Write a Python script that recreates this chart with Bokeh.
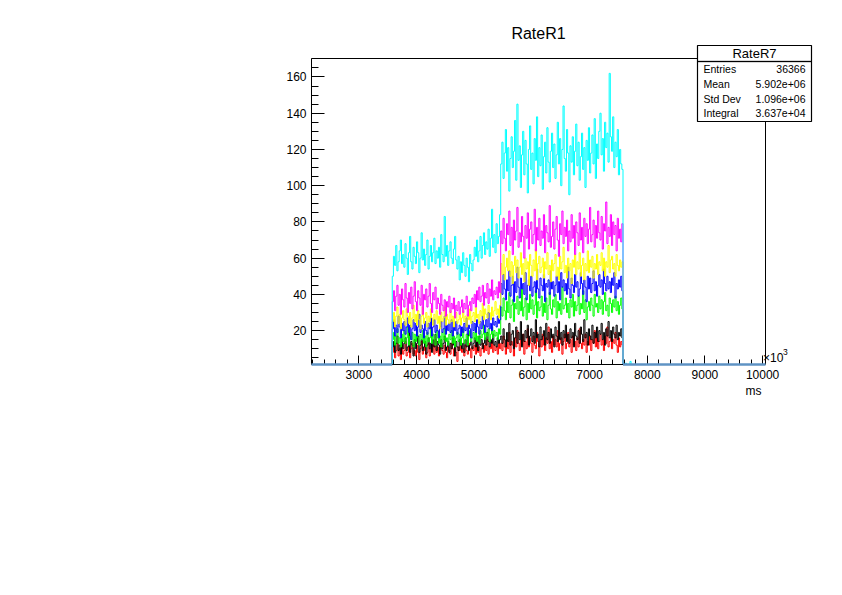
import numpy as np
from bokeh.plotting import figure
from bokeh.models import FixedTicker, Label, BoxAnnotation, Range1d, Title
from bokeh.embed import file_html
from bokeh.resources import INLINE

# ---------------- data (x in units of 10^3 ms) ----------------
X_START = 3580.0   # low edge of the first filled bin
BIN_W = 20.0       # bin width
X_MIN, X_MAX = 2180.0, 10050.0
Y_MIN, Y_MAX = 1.3, 170.2

x_ticks = [3000, 4000, 5000, 6000, 7000, 8000, 9000, 10000]
x_minor = list(range(2200, 10001, 200))
y_ticks = [20, 40, 60, 80, 100, 120, 140, 160]
y_minor = list(range(5, 171, 5))

rate_cyan = [50, 61, 56, 67, 53, 58, 64, 70, 57, 62,
             55, 68, 60, 51, 63, 72, 58, 54, 66, 61,
             57, 69, 63, 52, 60, 74, 59, 65, 56, 62,
             70, 54, 61, 67, 58, 63, 71, 57, 64, 60,
             66, 55, 73, 62, 58, 83, 61, 67, 56, 64,
             69, 60, 57, 65, 72, 59, 54, 61, 48, 58,
             52, 63, 56, 50, 60, 55, 47, 62, 57, 53,
             59, 66, 61, 70, 58, 64, 72, 60, 67, 74,
             62, 69, 65, 76, 61, 71, 87, 66, 73, 63,
             79, 68, 72, 84,
             112, 124, 104, 118, 131, 108,
             121, 97, 115, 127, 110, 119, 136, 103, 145, 114,
             122, 99, 117, 130, 106, 125, 112, 96, 120, 133,
             109, 118, 101, 126, 114, 138, 105, 121, 111, 128,
             98, 116, 124, 107, 132, 113, 102, 119, 129, 110,
             123, 104, 117, 135, 112, 126, 100, 120, 144, 115,
             108, 131, 118, 95, 122, 113, 127, 106, 119, 134,
             111, 124, 103, 116, 129, 109, 121, 99, 125, 114,
             132, 107, 118, 128, 112, 137, 104, 123, 115, 130,
             140, 117, 126, 108, 135, 121, 129, 113, 162, 127,
             119, 138, 110, 124, 116, 131, 106, 120, 112, 109,
             0, 0, 2, 0, 0, 0, 3, 0]
rate_magenta = [36, 42, 31, 39, 45, 34, 40, 29, 43, 37,
                33, 46, 38, 30, 41, 35, 44, 32, 39, 47,
                36, 31, 42, 38, 34, 45, 29, 40, 37, 43,
                33, 39, 46, 35, 30, 41, 37, 44, 32, 38,
                35, 29, 40, 34, 31, 37, 28, 36, 33, 39,
                30, 35, 32, 38, 27, 34, 31, 36, 29, 33,
                37, 30, 35, 32, 39, 28, 34, 36, 31, 38,
                35, 40, 33, 42, 37, 44, 36, 39, 45, 34,
                41, 38, 46, 35, 43, 39, 48, 37, 42, 40,
                44, 38, 47, 41,
                75, 68, 82, 71, 64, 79,
                73, 86, 67, 77, 62, 81, 70, 75, 88, 66,
                74, 69, 83, 72, 60, 78, 71, 85, 65, 76,
                80, 68, 73, 87, 64, 77, 70, 82, 67, 75,
                71, 84, 63, 78, 74, 69, 89, 66, 72, 80,
                65, 76, 83, 70, 61, 79, 73, 86, 68, 77,
                72, 81, 64, 75, 69, 84, 71, 78, 62, 80,
                74, 67, 85, 70, 77, 63, 82, 72, 79, 68,
                76, 88, 69, 73, 81, 66, 78, 71, 86, 74,
                70, 83, 65, 79, 75, 91, 68, 77, 72, 84,
                67, 80, 73, 78, 64, 82, 71, 76, 69, 79]
rate_yellow = [25, 30, 22, 28, 33, 24, 29, 21, 27, 31,
               26, 23, 32, 28, 24, 30, 22, 27, 34, 25,
               29, 23, 31, 26, 21, 28, 33, 24, 27, 30,
               22, 28, 25, 32, 27, 23, 29, 26, 31, 24,
               28, 21, 30, 25, 27, 33, 23, 29, 26, 24,
               31, 25, 28, 22, 27, 30, 24, 26, 29, 23,
               27, 31, 25, 28, 22, 29, 26, 32, 24, 28,
               30, 25, 33, 27, 29, 24, 31, 28, 35, 26,
               32, 29, 27, 34, 30, 26, 33, 28, 31, 36,
               29, 32, 27, 34,
               57, 51, 62, 48, 55, 60,
               53, 64, 50, 58, 46, 56, 61, 52, 59, 49,
               55, 63, 51, 57, 47, 60, 54, 58, 45, 62,
               56, 50, 59, 53, 65, 48, 57, 61, 52, 55,
               60, 49, 58, 54, 63, 51, 56, 47, 59, 53,
               57, 62, 50, 55, 48, 61, 54, 58, 66, 52,
               56, 49, 60, 53, 57, 46, 59, 55, 62, 51,
               58, 54, 63, 50, 56, 60, 48, 57, 53, 64,
               52, 59, 55, 61, 49, 57, 54, 62, 51, 58,
               56, 63, 53, 60, 50, 58, 55, 67, 52, 59,
               61, 54, 57, 50, 62, 56, 53, 59, 55, 58]
rate_blue = [21, 26, 17, 23, 19, 28, 22, 16, 24, 20,
             25, 18, 22, 27, 19, 23, 15, 21, 26, 20,
             24, 17, 22, 29, 19, 23, 21, 16, 25, 20,
             18, 24, 21, 27, 17, 22, 26, 19, 23, 20,
             16, 22, 25, 19, 21, 28, 18, 23, 20, 24,
             19, 26, 17, 22, 20, 25, 18, 21, 23, 17,
             22, 19, 24, 20, 27, 18, 23, 21, 16, 25,
             20, 24, 19, 26, 22, 18, 25, 21, 28, 23,
             19, 26, 22, 30, 21, 24, 20, 27, 23, 25,
             22, 28, 24, 26,
             46, 40, 51, 43, 37, 48,
             42, 53, 39, 45, 50, 36, 47, 41, 55, 44,
             38, 49, 43, 46, 40, 52, 37, 45, 48, 42,
             50, 39, 44, 47, 41, 54, 43, 38, 49, 45,
             42, 51, 36, 46, 44, 48, 40, 53, 43, 47,
             39, 45, 50, 41, 47, 37, 52, 44, 48, 42,
             46, 40, 55, 43, 38, 49, 45, 41, 51, 44,
             47, 39, 43, 52, 46, 40, 48, 44, 36, 50,
             43, 49, 41, 46, 53, 42, 47, 39, 45, 51,
             44, 48, 40, 54, 46, 42, 50, 43, 47, 41,
             49, 45, 52, 38, 46, 43, 48, 44, 50, 42]
rate_green = [15, 19, 12, 17, 21, 13, 16, 11, 18, 14,
              20, 13, 16, 22, 12, 17, 15, 19, 11, 18,
              14, 21, 16, 12, 18, 15, 20, 13, 17, 11,
              19, 14, 16, 22, 13, 18, 15, 12, 20, 16,
              13, 17, 11, 19, 15, 21, 14, 16, 12, 18,
              15, 20, 13, 17, 11, 16, 19, 14, 18, 12,
              16, 21, 13, 15, 18, 12, 17, 20, 14, 16,
              19, 15, 22, 14, 17, 13, 20, 16, 18, 23,
              15, 19, 17, 21, 14, 18, 22, 16, 20, 17,
              19, 15, 21, 18,
              33, 28, 38, 31, 26, 36,
              30, 41, 27, 34, 37, 25, 35, 32, 39, 29,
              36, 31, 43, 28, 33, 38, 26, 35, 30, 40,
              32, 37, 29, 34, 42, 27, 36, 31, 33, 39,
              28, 35, 30, 38, 26, 34, 41, 32, 29, 37,
              33, 40, 27, 36, 31, 35, 29, 44, 32, 34,
              38, 30, 35, 27, 37, 33, 40, 28, 36, 31,
              34, 39, 29, 35, 32, 42, 30, 37, 26, 33,
              36, 31, 38, 34, 28, 40, 33, 35, 30, 39,
              32, 37, 29, 36, 41, 31, 34, 28, 38, 35,
              30, 37, 33, 39, 31, 36, 29, 34, 38, 32]
rate_black = [11, 14, 8, 13, 17, 9, 12, 7, 15, 10,
              13, 16, 9, 11, 19, 8, 14, 12, 6, 15,
              10, 13, 17, 8, 12, 15, 9, 11, 14, 7,
              12, 16, 10, 13, 8, 15, 11, 18, 9, 14,
              12, 7, 15, 10, 13, 17, 9, 11, 14, 8,
              13, 10, 16, 12, 6, 14, 11, 9, 15, 12,
              10, 13, 8, 15, 11, 18, 9, 12, 14, 10,
              13, 16, 11, 14, 9, 17, 12, 15, 10, 13,
              16, 12, 19, 14, 11, 15, 13, 18, 12, 14,
              11, 16, 13, 15,
              17, 13, 21, 15, 11, 19,
              14, 24, 12, 18, 20, 10, 16, 22, 13, 19,
              15, 25, 11, 18, 14, 20, 16, 23, 12, 17,
              21, 14, 19, 13, 26, 16, 18, 11, 22, 15,
              17, 20, 12, 24, 15, 19, 13, 21, 16, 18,
              11, 22, 17, 14, 25, 15, 19, 12, 20, 16,
              23, 14, 18, 13, 21, 16, 19, 11, 24, 17,
              15, 20, 13, 22, 18, 14, 26, 16, 19, 12,
              21, 17, 15, 23, 13, 19, 16, 22, 14, 20,
              18, 24, 15, 19, 12, 21, 17, 25, 16, 20,
              14, 22, 18, 16, 23, 15, 19, 17, 21, 16]
rate_red = [8, 11, 5, 9, 13, 6, 10, 4, 12, 7,
            9, 14, 6, 8, 11, 5, 10, 13, 7, 9,
            6, 12, 8, 4, 10, 14, 7, 9, 11, 5,
            8, 13, 6, 10, 9, 12, 7, 15, 8, 11,
            6, 10, 13, 9, 7, 12, 8, 5, 11, 9,
            7, 13, 10, 6, 12, 8, 3, 11, 9, 14,
            8, 10, 6, 12, 9, 7, 13, 10, 5, 11,
            9, 12, 7, 14, 8, 11, 6, 10, 13, 8,
            12, 9, 15, 7, 11, 10, 14, 8, 12, 9,
            11, 7, 13, 10,
            13, 9, 17, 11, 7, 15,
            10, 19, 8, 14, 12, 6, 16, 11, 20, 13,
            9, 15, 12, 18, 7, 14, 10, 21, 11, 16,
            13, 8, 17, 12, 10, 19, 14, 6, 15, 11,
            18, 12, 9, 16, 13, 22, 10, 14, 8, 17,
            12, 15, 11, 20, 9, 13, 16, 7, 14, 18,
            10, 13, 19, 11, 15, 8, 17, 12, 14, 9,
            16, 11, 21, 13, 10, 15, 12, 18, 8, 14,
            12, 17, 9, 15, 13, 20, 11, 16, 10, 14,
            18, 12, 15, 9, 17, 13, 22, 11, 14, 16,
            10, 15, 13, 19, 12, 8, 16, 11, 14, 12]
N_FILLED = 200  # bins from X_START that belong to the main period

stats_names = ["Entries", "Mean", "Std Dev", "Integral"]
stats_values = ["36366", "5.902e+06", "1.096e+06", "3.637e+04"]

# ---------------- figure ----------------
W, H = 826, 579
FONT = "Liberation Sans"
FL, FR, FT, FB = 311, 765, 58, 364   # histogram box edges in page pixels
CR, CT = 820, 12                     # drawing-area (frame) right / top in page pixels

XPP = (X_MAX - X_MIN) / (FR - FL)    # data units per pixel
YPP = (Y_MAX - Y_MIN) / (FB - FT)


def dx(px):
    return X_MIN + (px - FL) * XPP


def dy(py):
    return Y_MIN + (FB - py) * YPP


p = figure(width=W, height=H, output_backend="svg", toolbar_location=None,
           x_range=Range1d(X_MIN, dx(CR)), y_range=Range1d(Y_MIN, dy(CT)),
           min_border_left=FL, min_border_right=W - CR,
           min_border_top=CT, min_border_bottom=H - FB)
p.grid.visible = False
p.outline_line_color = None
p.background_fill_color = "white"
p.border_fill_color = "white"

for ax in (p.xaxis[0], p.yaxis[0]):
    ax.axis_line_color = "black"
    ax.major_tick_out = 0
    ax.minor_tick_out = 0
    ax.major_tick_line_color = "black"
    ax.minor_tick_line_color = "black"
    ax.major_label_text_font = FONT
    ax.major_label_text_font_size = "12px"
    ax.major_label_text_color = "black"
    ax.major_label_standoff = 5

p.xaxis[0].ticker = FixedTicker(ticks=x_ticks, minor_ticks=x_minor)
p.xaxis[0].bounds = (X_MIN, X_MAX)
p.xaxis[0].major_tick_in = 9
p.xaxis[0].minor_tick_in = 5
p.yaxis[0].ticker = FixedTicker(ticks=y_ticks, minor_ticks=y_minor)
p.yaxis[0].bounds = (Y_MIN, Y_MAX)
p.yaxis[0].major_tick_in = 13
p.yaxis[0].minor_tick_in = 7

# top and right sides of the histogram box
p.line([X_MIN, X_MAX, X_MAX], [Y_MAX, Y_MAX, Y_MIN], line_color="black", line_width=1)


def outline(vals, start, w):
    v = np.asarray(vals, dtype=float)
    edges = start + w * np.arange(len(v) + 1)
    xs = np.repeat(edges, 2)
    ys = np.concatenate([[0.0], np.repeat(v, 2), [0.0]])
    return xs, np.clip(ys, Y_MIN, None)


# RateR1 (empty outside the run): baseline segments
x_end = X_START + BIN_W * N_FILLED
for seg in ([X_MIN, X_START], [x_end, X_MAX]):
    p.line(seg, [Y_MIN, Y_MIN], line_color="#5f93c4", line_width=2.5, level="overlay")

series = [
    (rate_red, "#ff0000"),
    (rate_black, "#000000"),
    (rate_green, "#00ff00"),
    (rate_blue, "#0000ff"),
    (rate_yellow, "#ffff00"),
    (rate_magenta, "#ff00ff"),
    (rate_cyan, "#00ffff"),
]
for vals, col in series:
    xs, ys = outline(vals, X_START, BIN_W)
    p.line(xs, ys, line_color=col, line_width=1.0)


def label(px, py, text, size, align="left", baseline="middle"):
    p.add_layout(Label(x=dx(px), y=dy(py), text=text, text_font=FONT,
                       text_font_size=size, text_align=align,
                       text_baseline=baseline, text_color="black",
                       level="overlay"))


# title and exponent
label(538, 33, "RateR1", "16px", "center")
label(762.5, 357, "×10", "12px", "left", "alphabetic")
label(782.5, 351.5, "3", "8.5px", "left", "alphabetic")

# axis title "ms" below the axis, right-aligned at the end of the histogram box
p.add_layout(Title(text="ms", align="right", offset=CR - 761, standoff=0,
                   text_font=FONT, text_font_size="12px", text_font_style="normal",
                   text_color="black"), "below")

# stats box
bl, br, bt, bb = 697, 811, 45, 121
p.add_layout(BoxAnnotation(left=dx(bl), right=dx(br), top=dy(bt), bottom=dy(bb),
                           fill_color="white", fill_alpha=1.0,
                           line_color="black", line_alpha=1.0, line_width=1.2,
                           level="overlay"))
p.add_layout(BoxAnnotation(left=dx(bl), right=dx(br), top=dy(60.6), bottom=dy(61.4),
                           fill_color="black", fill_alpha=1.0,
                           line_color="black", line_alpha=1.0, line_width=0.4,
                           level="overlay"))
label(754, 52.5, "RateR7", "13px", "center")
row_y = [68.5, 83.3, 98.0, 112.7]
for name, val, ry in zip(stats_names, stats_values, row_y):
    label(703, ry, name, "10.5px", "left")
    label(805, ry, val, "10.5px", "right")

open("out.html", "w").write(file_html(p, INLINE))
